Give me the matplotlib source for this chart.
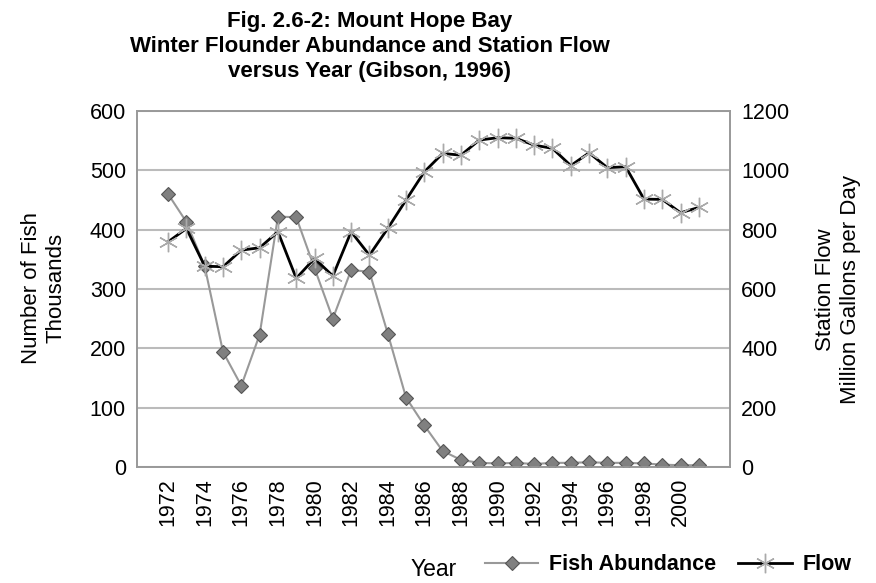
import matplotlib.pyplot as plt

plt.rcParams['font.family'] = ['Liberation Sans', 'DejaVu Sans']

years = list(range(1972, 2002))
fish = [460, 413, 338, 194, 137, 223, 422, 421, 335, 250, 332, 329, 225, 117,
        70, 27, 12, 7, 6, 7, 5, 7, 7, 8, 7, 7, 6, 4, 3, 3]
flow = [759, 804, 677, 675, 731, 739, 793, 636, 703, 644, 793, 714, 804, 900,
        995, 1057, 1051, 1102, 1110, 1108, 1085, 1074, 1016, 1059, 1009, 1012,
        903, 902, 857, 875]
tick_years = list(range(1972, 2001, 2))

fig = plt.figure(figsize=(8.76, 5.83), dpi=100)
ax = fig.add_axes([137/876, 1-467/583, 593/876, 356/583])
ax2 = ax.twinx()

l1, = ax.plot(years, fish, color='#999999', lw=1.5, marker='D', ms=7,
              mfc='#808080', mec='#555555', mew=0.8, label='Fish Abundance', zorder=3)
l2, = ax2.plot(years, flow, color='black', lw=2, marker=(6, 2, 0), ms=14,
               mec='#aaaaaa', mew=1, label='Flow', zorder=2)

ax.set_ylim(0, 600)
ax.set_yticks(range(0, 601, 100))
ax2.set_ylim(0, 1200)
ax2.set_yticks(range(0, 1201, 200))
ax.set_xlim(1970.3, 2002.7)
ax.set_xticks(tick_years)
ax.set_xticklabels([str(y) for y in tick_years], rotation=90)

ax.grid(axis='y', color='#bbbbbb', lw=1.5)
ax.set_axisbelow(True)
for a in (ax, ax2):
    for s in a.spines.values():
        s.set_color('#999999')
        s.set_linewidth(1.2)
    a.tick_params(length=0, labelsize=15.5, pad=8)

fig.text(370/876, 1-47/583, 'Fig. 2.6-2: Mount Hope Bay\nWinter Flounder Abundance and Station Flow\nversus Year (Gibson, 1996)',
         ha='center', va='center', fontsize=16, fontweight='bold', linespacing=1.25)
fig.text(44/876, 1-288/583, 'Number of Fish\nThousands', rotation=90,
         ha='center', va='center', fontsize=16, linespacing=1.2)
fig.text(838/876, 1-290/583, 'Station Flow\nMillion Gallons per Day', rotation=90,
         ha='center', va='center', fontsize=16, linespacing=1.2)
fig.text(434/876, 1-570/583, 'Year', ha='center', va='center', fontsize=16.5)

leg = fig.legend(handles=[l1, l2], loc='center', bbox_to_anchor=(668/876, 1-565/583),
                 ncol=2, frameon=False, prop={'size': 15.5, 'weight': 'bold'},
                 handlelength=2.5, columnspacing=1.0, handletextpad=0.5)

fig.savefig('out.png', dpi=100)
